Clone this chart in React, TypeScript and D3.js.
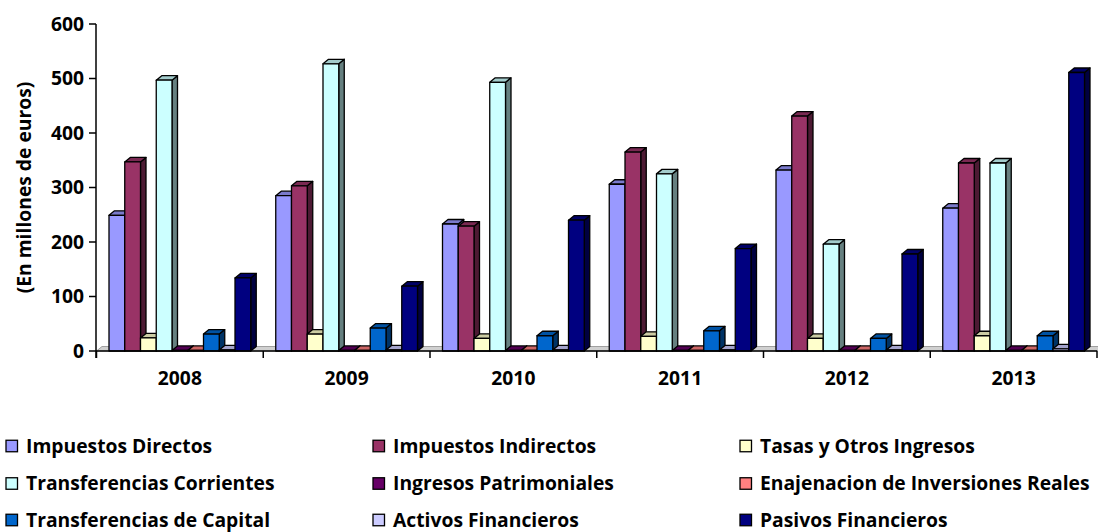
import React from "react";
import * as d3 from "d3";

const years = ["2008", "2009", "2010", "2011", "2012", "2013"];
const seriesNames = [
  "Impuestos Directos",
  "Impuestos Indirectos",
  "Tasas y Otros Ingresos",
  "Transferencias Corrientes",
  "Ingresos Patrimoniales",
  "Enajenacion de Inversiones Reales",
  "Transferencias de Capital",
  "Activos Financieros",
  "Pasivos Financieros",
];
const seriesColors = [
  "#9999FF", "#993366", "#FFFFCC", "#CCFFFF", "#660066",
  "#FF8080", "#0066CC", "#CCCCFF", "#000080",
];
const impuestosDirectos = [249, 285, 233, 306, 332, 262];
const impuestosIndirectos = [347, 303, 229, 365, 431, 345];
const tasasOtros = [24, 31, 23, 27, 23, 28];
const transfCorrientes = [497, 527, 493, 325, 196, 345];
const ingresosPatrimoniales = [1, 1, 1, 1, 1, 1];
const enajenacion = [1, 1, 1, 1, 1, 1];
const transfCapital = [31, 42, 28, 37, 23, 28];
const activosFinancieros = [2, 2, 2, 2, 2, 4];
const pasivosFinancieros = [134, 119, 240, 188, 178, 511];
const seriesValues = [
  impuestosDirectos, impuestosIndirectos, tasasOtros, transfCorrientes,
  ingresosPatrimoniales, enajenacion, transfCapital, activosFinancieros, pasivosFinancieros,
];
const yTicks = [0, 100, 200, 300, 400, 500, 600];

const FONT = "'Open Sans', Lato, sans-serif";
const FS = 19.3;

function shade(c: string, k: number) {
  const col = d3.rgb(c);
  return d3.rgb(col.r * k, col.g * k, col.b * k).formatHex();
}

export default function App() {
  const W = 1098, H = 532;
  const x0 = 96.5, x1 = 1097;
  const y = d3.scaleLinear().domain([0, 600]).range([351, 24]);
  const xBand = d3.scaleBand().domain(years).range([x0, x1]).paddingInner(0).paddingOuter(0);
  const inner = d3.scaleBand().domain(seriesNames)
    .range([12.5, xBand.bandwidth() - 12.5]).paddingInner(0).paddingOuter(0);
  const dx = 5.5, dy = 4.5;
  const bw = inner.bandwidth();
  const base = y(0);

  const bars: React.ReactNode[] = [];
  years.forEach((yr, ci) => {
    seriesNames.forEach((s, si) => {
      const v = seriesValues[si][ci];
      const bx = (xBand(yr) as number) + (inner(s) as number);
      const top = y(v);
      const col = seriesColors[si];
      const key = `${yr}-${si}`;
      bars.push(
        <g key={key} stroke="#000" strokeWidth={1.3} strokeLinejoin="round">
          <polygon
            points={`${bx + bw},${top} ${bx + bw + dx},${top - dy} ${bx + bw + dx},${base - dy} ${bx + bw},${base}`}
            fill={shade(col, 0.5)}
          />
          <polygon
            points={`${bx},${top} ${bx + dx},${top - dy} ${bx + bw + dx},${top - dy} ${bx + bw},${top}`}
            fill={shade(col, 0.8)}
          />
          <rect x={bx} y={top} width={bw} height={base - top} fill={col} />
        </g>
      );
    });
  });

  const legendCols = [6, 373, 740];
  const legendRows = [446, 483.5, 520];

  return (
    <svg width={W} height={H} style={{ position: "absolute", left: 0, top: 0, background: "#fff" }}
      fontFamily={FONT}>
      {/* floor */}
      <polygon
        points={`${x0},${base} ${x0 + dx},${base - dy} ${x1 + dx},${base - dy} ${x1},${base}`}
        fill="#d0d0d0" stroke="#a0a0a0" strokeWidth={1}
      />
      {bars}
      {/* y axis */}
      <line x1={96} x2={96} y1={y(600)} y2={358} stroke="#000" strokeWidth={1.5} />
      {yTicks.map((t) => (
        <g key={t}>
          <line x1={89} x2={96} y1={y(t)} y2={y(t)} stroke="#000" strokeWidth={1.5} />
          <text x={84} y={y(t)} dy="0.36em" textAnchor="end" fontSize={FS} fontWeight={700}>
            {t}
          </text>
        </g>
      ))}
      {/* x axis */}
      <line x1={96} x2={x1} y1={base} y2={base} stroke="#000" strokeWidth={1.5} />
      {[...years.map((yr) => xBand(yr) as number), x1].map((xx, i) => (
        <line key={i} x1={xx} x2={xx} y1={base} y2={358} stroke="#000" strokeWidth={1.5} />
      ))}
      {years.map((yr) => (
        <text key={yr} x={(xBand(yr) as number) + xBand.bandwidth() / 2} y={378} dy="0.36em"
          textAnchor="middle" fontSize={FS} fontWeight={700}>
          {yr}
        </text>
      ))}
      {/* y title */}
      <text transform={`translate(24,187.5) rotate(-90)`} textAnchor="middle" dy="0.36em"
        fontSize={FS} fontWeight={700}>
        (En millones de euros)
      </text>
      {/* legend */}
      {seriesNames.map((s, i) => {
        const cx = legendCols[i % 3];
        const cy = legendRows[Math.floor(i / 3)];
        return (
          <g key={s}>
            <rect x={cx} y={cy - 5.75} width={11.5} height={11.5} fill={seriesColors[i]}
              stroke="#000" strokeWidth={1.3} />
            <text x={cx + 20} y={cy} dy="0.36em" fontSize={FS} fontWeight={700}>
              {s}
            </text>
          </g>
        );
      })}
    </svg>
  );
}
